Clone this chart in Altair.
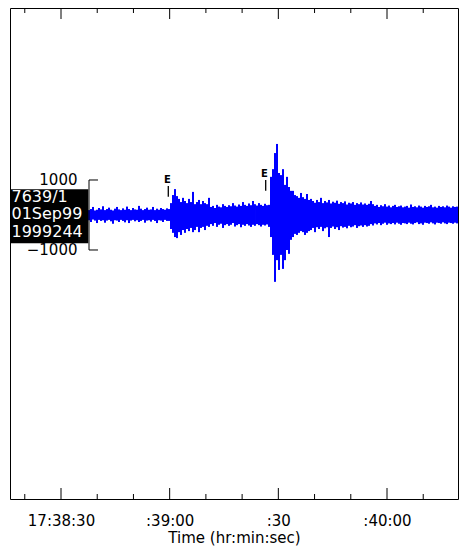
import altair as alt
import pandas as pd

# ---- time axis (seconds after 17:38:00) ----
x_domain = [15.92, 139.60]
tick_values = [30, 60, 90, 120]
tick_labels = ["17:38:30", ":39:00", ":30", ":40:00"]
minor_ticks = [20, 40, 50, 70, 80, 100, 110, 130]

# ---- trace envelope (counts), one column every ~0.55 s starting at 37.73 s ----
T0 = 37.73
DT = 0.5521

A_hi = [140, 170, 230, 130, 150, 200, 160, 250, 140, 170, 210, 150, 130, 180, 230, 160, 140, 190, 150, 240,
        170, 140, 200, 160, 150, 260, 180, 140, 170, 210, 150, 160, 230, 140, 180, 150, 200, 170, 150, 190]
A_lo = [150, 200, 130, 160, 230, 140, 170, 150, 220, 160, 140, 180, 250, 150, 160, 200, 140, 170, 210, 150,
        230, 160, 140, 180, 150, 200, 170, 140, 220, 160, 150, 190, 140, 170, 230, 150, 160, 200, 140, 170]
B_hi = [170, 340, 570, 740, 540, 460, 370, 490, 400, 340, 460, 370, 660, 310, 370, 430, 310, 400, 340, 310, 490]
B_lo = [170, 400, 510, 630, 660, 490, 570, 430, 510, 400, 460, 370, 490, 430, 340, 490, 370, 340, 430, 310, 340]
C_hi = [230, 260, 200, 290, 240, 220, 310, 260, 230, 280, 250, 340, 270, 240, 300, 260, 370, 290, 260, 330,
        280, 400, 310, 270, 340, 290, 260, 320, 280]
C_lo = [260, 310, 230, 340, 280, 250, 370, 290, 260, 310, 280, 230, 330, 290, 260, 350, 280, 310, 260, 300,
        340, 280, 310, 260, 290, 330, 280, 300, 270]
D_hi = [290, 1090, 1310, 1770, 2030, 1200, 1140, 1310, 860, 1090, 800, 690, 690, 570, 540, 490, 630, 510, 460, 600, 430]
D_lo = [340, 630, 1140, 1910, 1290, 1570, 1140, 1540, 1290, 1000, 1110, 710, 630, 540, 570, 510, 460, 490, 570, 510, 460]
E_hi = [460, 400, 350, 430, 370, 490, 340, 400, 360, 430, 330, 380, 350, 410, 320, 370, 340, 390, 300, 350,
        330, 370, 290, 340, 310, 360, 300, 330, 290, 320]
E_lo = [430, 370, 490, 350, 400, 340, 460, 380, 350, 630, 370, 330, 400, 350, 430, 320, 360, 340, 380, 310,
        350, 330, 290, 370, 320, 300, 340, 290, 330, 310]
F_hi = [400, 310, 260, 290, 230, 280, 250, 310, 240, 270, 220, 260, 290, 230, 250, 270, 220, 240, 260, 210,
        300, 230, 250, 220, 270, 240, 210, 260, 230, 250, 290, 220, 240, 210, 260, 230, 250, 220, 270, 240,
        210, 250, 230, 240]
F_lo = [260, 300, 240, 270, 230, 290, 250, 220, 280, 240, 260, 230, 270, 220, 250, 280, 230, 240, 260, 220,
        250, 270, 230, 210, 260, 240, 280, 220, 230, 250, 210, 240, 270, 220, 230, 250, 210, 240, 260, 220,
        230, 250, 220, 240]

hi = A_hi + B_hi + C_hi + D_hi + E_hi + F_hi
lo = A_lo + B_lo + C_lo + D_lo + E_lo + F_lo
n = min(len(hi), len(lo))

# ---- annotations ----
scale_vals = [1000, -1000]
scale_text = ["1000", "\u22121000"]
station_lines = ["7639/1", "01Sep99", "1999244"]
station_y = [500, 29, -500]
event_t = [59.62, 86.51]
event_bottom = [523, 694]
event_top = [829, 1000]
event_label_t = [59.35, 86.18]
event_label_y = [991, 1171]

FONT = "DejaVu Sans"
xs = alt.Scale(domain=x_domain, nice=False, zero=False)
ys = alt.Scale(domain=[-8114, 5914], nice=False, zero=False)

label_expr = " : ".join(
    [f"datum.value == {v} ? '{l}'" for v, l in zip(tick_values, tick_labels)] + ["''"]
)
x_axis = alt.Axis(values=tick_values, labelExpr=label_expr, ticks=False, tickSize=0, domain=False,
                  grid=False, labelFont=FONT, labelFontSize=15, labelColor="black", labelPadding=14,
                  labelFlush=False, title="Time (hr:min:sec)", titleFont=FONT, titleFontSize=15,
                  titleFontWeight="normal", titleColor="black", titlePadding=2)

trace_df = pd.DataFrame({"t": [T0 + i * DT for i in range(n)],
                         "hi": hi[:n], "lo": [-v for v in lo[:n]]})

trace = alt.Chart(trace_df).mark_rule(color="#0000ff", strokeWidth=2).encode(
    x=alt.X("t:Q", scale=xs, axis=x_axis),
    y=alt.Y("lo:Q", scale=ys, axis=None),
    y2="hi:Q",
)

major_df = pd.DataFrame({"t": tick_values})
minor_df = pd.DataFrame({"t": minor_ticks})

def tick_layer(df, y0, y1):
    return alt.Chart(df).mark_rule(color="black", strokeWidth=1).encode(
        x=alt.X("t:Q", scale=xs, axis=x_axis),
        y=alt.value(y0), y2=alt.value(y1),
    )

H = 491
ticks = [tick_layer(major_df, 0, 11), tick_layer(minor_df, 0, 5),
         tick_layer(major_df, H, H - 11), tick_layer(minor_df, H, H - 5)]

# station label box
box_df = pd.DataFrame({"t": [x_domain[0]], "t2": [37.54], "y": [734], "y2": [-809]})
box = alt.Chart(box_df).mark_rect(color="black").encode(
    x=alt.X("t:Q", scale=xs, axis=x_axis), x2="t2:Q",
    y=alt.Y("y:Q", scale=ys, axis=None), y2="y2:Q",
)
st_df = pd.DataFrame({"t": [16.33] * 3, "y": station_y, "s": station_lines})
st_text = alt.Chart(st_df).mark_text(color="white", font=FONT, fontSize=16, align="left",
                                     baseline="middle").encode(
    x=alt.X("t:Q", scale=xs, axis=x_axis),
    y=alt.Y("y:Q", scale=ys, axis=None),
    text="s:N",
)

# amplitude bracket
br_v_df = pd.DataFrame({"t": [37.73], "y": [scale_vals[1]], "y2": [scale_vals[0]]})
br_v = alt.Chart(br_v_df).mark_rule(color="black", strokeWidth=1).encode(
    x=alt.X("t:Q", scale=xs, axis=x_axis),
    y=alt.Y("y:Q", scale=ys, axis=None), y2="y2:Q",
)
br_h_df = pd.DataFrame({"t": [37.73, 37.73], "t2": [40.21, 40.21], "y": scale_vals})
br_h = alt.Chart(br_h_df).mark_rule(color="black", strokeWidth=1).encode(
    x=alt.X("t:Q", scale=xs, axis=x_axis), x2="t2:Q",
    y=alt.Y("y:Q", scale=ys, axis=None),
)
sc_df = pd.DataFrame({"t": [34.55, 34.55], "y": scale_vals, "s": scale_text})
sc_text = alt.Chart(sc_df).mark_text(color="black", font=FONT, fontSize=15, align="right",
                                     baseline="middle").encode(
    x=alt.X("t:Q", scale=xs, axis=x_axis),
    y=alt.Y("y:Q", scale=ys, axis=None),
    text="s:N",
)

# event markers
ev_df = pd.DataFrame({"t": event_t, "y": event_bottom, "y2": event_top})
ev_lines = alt.Chart(ev_df).mark_rule(color="black", strokeWidth=1.3).encode(
    x=alt.X("t:Q", scale=xs, axis=x_axis),
    y=alt.Y("y:Q", scale=ys, axis=None), y2="y2:Q",
)
evl_df = pd.DataFrame({"t": event_label_t, "y": event_label_y, "s": ["E", "E"]})
ev_text = alt.Chart(evl_df).mark_text(color="black", font=FONT, fontSize=10, fontWeight="bold",
                                      align="center", baseline="middle").encode(
    x=alt.X("t:Q", scale=xs, axis=x_axis),
    y=alt.Y("y:Q", scale=ys, axis=None),
    text="s:N",
)

chart = alt.layer(trace, *ticks, box, st_text, br_v, br_h, sc_text, ev_lines, ev_text).properties(
    width=448, height=H,
    autosize=alt.AutoSizeParams(type="none"),
    padding={"left": 2, "top": 0, "right": 4, "bottom": 49},
    background="white",
).configure_view(stroke="black", strokeWidth=1)

chart.save("out.html", embed_options={"renderer": "svg", "actions": False})
